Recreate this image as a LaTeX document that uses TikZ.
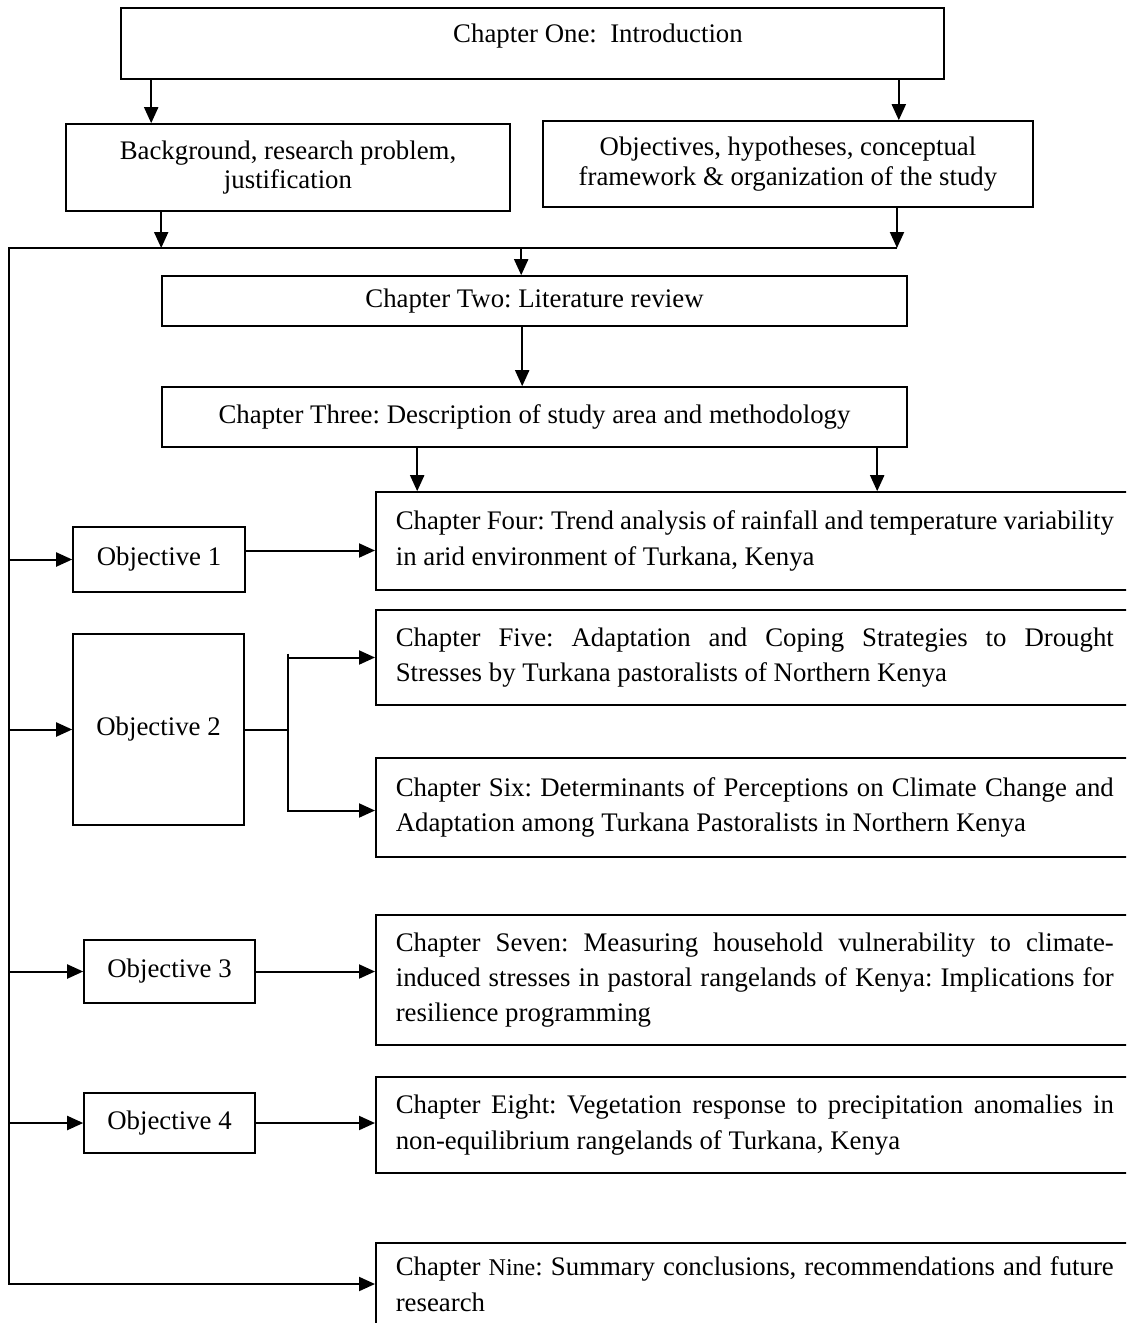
\documentclass[tikz,border=0pt]{standalone}
\usepackage{fontspec}
\setmainfont{Liberation Serif}
\usetikzlibrary{arrows.meta,calc}
\frenchspacing
\newcommand\fsz{\fontsize{13.4pt}{14.8pt}\selectfont\frenchspacing}
\newcommand\fszc{\fontsize{13.4pt}{17.7pt}\selectfont\frenchspacing\hyphenpenalty=10000\exhyphenpenalty=10000}
\begin{document}
\begin{tikzpicture}[x=0.5pt,y=-0.5pt,
  plainbox/.style={draw, line width=0.8pt, inner sep=0pt, align=center, font=\fsz},
  chap/.style={draw, line width=0.8pt, anchor=west, text width=359pt, inner xsep=10pt, inner ysep=0pt, align=justify, font=\fszc},
  arr/.style={line width=1pt, -{Triangle[length=8pt,width=7pt]}},
  ln/.style={line width=1pt}]
\useasboundingbox (0,0) rectangle (1126,1323);
\clip (0,0) rectangle (1126,1323);

% top level
\node[plainbox, minimum width=411.5pt, minimum height=35.5pt] (one) at (532.5,43.5) {};
\node[font=\fsz] (onet) at (598,36) {Chapter One:~ Introduction};
\node[plainbox, minimum width=222pt, minimum height=43.5pt] (bg) at (288,167.5)
  {Background, research problem,\\ justification};
\node[plainbox, minimum width=245pt, minimum height=43pt] (obj) at (788,164)
  {Objectives, hypotheses, conceptual\\ framework \& organization of the study};

\node[plainbox, minimum width=372.5pt, minimum height=25pt] (two) at (534.5,301)
  {Chapter Two: Literature review};
\node[plainbox, minimum width=372.5pt, minimum height=30pt] (three) at (534.5,417)
  {Chapter Three: Description of study area and methodology};

% chapters
\node[chap, minimum height=49pt] (four) at (375,541)
  {Chapter Four: Trend analysis of rainfall and temperature variability\linebreak in arid environment of Turkana, Kenya};
\node[chap, minimum height=47.5pt] (five) at (375,657.5)
  {Chapter Five: Adaptation and Coping Strategies to Drought\linebreak Stresses by Turkana pastoralists of Northern Kenya};
\node[chap, minimum height=49.5pt] (six) at (375,807.5)
  {Chapter Six: Determinants of Perceptions on Climate Change and\linebreak Adaptation among Turkana Pastoralists in Northern Kenya};
\node[chap, minimum height=65pt] (seven) at (375,980)
  {Chapter Seven: Measuring household vulnerability to climate-\linebreak induced stresses in pastoral rangelands of Kenya: Implications for\linebreak resilience programming};
\node[chap, minimum height=48pt] (eight) at (375,1125)
  {Chapter Eight: Vegetation response to precipitation anomalies in\linebreak non-equilibrium rangelands of Turkana, Kenya};
\node[chap, minimum height=41pt] (nine) at (375,1284)
  {Chapter {\fontsize{12pt}{17pt}\selectfont Nine}: Summary conclusions, recommendations and future\linebreak research};

% objectives
\node[plainbox, minimum width=86pt, minimum height=32.5pt] (o1) at (159,559.5) {Objective 1};
\node[plainbox, minimum width=85.5pt, minimum height=95.5pt] (o2) at (158.5,729.5) {Objective 2};
\node[plainbox, minimum width=85.5pt, minimum height=31.5pt] (o3) at (169.5,971.5) {Objective 3};
\node[plainbox, minimum width=85.5pt, minimum height=30pt] (o4) at (169.5,1123) {Objective 4};

% bus
\coordinate (busL) at (9,248);
\coordinate (busR) at (897,248);
\coordinate (j2) at ([xshift=21.5pt]o2.east);

% top arrows
\draw[arr] ([xshift=15.5pt]one.south west) -- ([xshift=15.5pt]one.south west |- bg.north);
\draw[arr] ([xshift=-23pt]one.south east) -- ([xshift=-23pt]one.south east |- obj.north);
\draw[arr] ([xshift=48pt]bg.south west) -- ([xshift=48pt]bg.south west |- busL);
\draw[arr] (obj.south -| busR) -- (busR);
\draw[arr] ([xshift=180pt]two.north west |- busL) -- ([xshift=180pt]two.north west);
\draw[arr] (busR) -- (busL) -- (busL |- nine.west) -- (nine.west);

\draw[arr] ([xshift=180.5pt]two.south west) -- ([xshift=180.5pt]two.south west |- three.north);
\draw[arr] ([xshift=128pt]three.south west) -- ([xshift=128pt]three.south west |- four.north);
\draw[arr] ([xshift=358pt]three.south west) -- ([xshift=358pt]three.south west |- four.north);

% objective arrows
\draw[arr] (o1.west -| busL) -- (o1.west);
\draw[arr] ([yshift=4.5pt]o1.east) -- ([yshift=4.5pt]o1.east -| four.west);
\draw[arr] (o2.west -| busL) -- (o2.west);
\draw[ln] (o2.east) -- (j2);
\draw[ln] ([yshift=2pt]j2 |- five.west) -- ([yshift=-2pt]j2 |- six.west);
\draw[arr] (j2 |- five.west) -- (five.west);
\draw[arr] ([yshift=-1.5pt]j2 |- six.west) -- ([yshift=-1.5pt]six.west);
\draw[arr] (o3.west -| busL) -- (o3.west);
\draw[arr] (o3.east) -- (o3.east -| seven.west);
\draw[arr] (o4.west -| busL) -- (o4.west);
\draw[arr] (o4.east) -- (o4.east -| eight.west);
\end{tikzpicture}
\end{document}
